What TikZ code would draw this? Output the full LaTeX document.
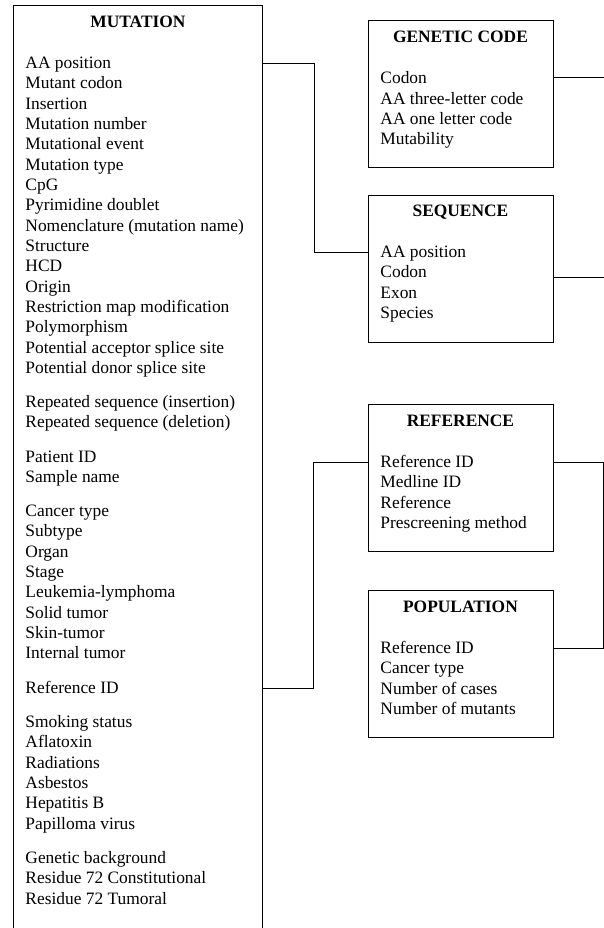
\documentclass[tikz,border=0pt]{standalone}
\usepackage{fontspec}
\setmainfont{Liberation Serif}
\newcommand{\fieldsize}{\fontsize{17.4pt}{20.3pt}\selectfont}

\begin{document}
\begin{tikzpicture}[
        x = 1pt,
        y = -1pt,
        line width = 0.9pt,
        entity/.style = {draw, rectangle, anchor = north west, minimum width = 185pt, minimum height = 147pt, inner sep = 0pt},
        heading/.style = {anchor = base, yshift = -22.3pt, inner sep = 0pt, font = \fieldsize\bfseries},
        field/.style = {anchor = base west, yshift = -5.5pt, inner sep = 0pt, text height = 13pt, text depth = 2pt, font = \fieldsize}
      ]
      \useasboundingbox (0,0) rectangle (604,928);

      \node[entity, minimum width = 249pt, minimum height = 950pt] (mutation) at (13,5) {};
      \node[entity] (genetic) at (367.5,20) {};
      \node[entity] (sequence) at (367.5,194.5) {};
      \node[entity] (reference) at (367.5,404) {};
      \node[entity] (population) at (367.5,590) {};

      \node[heading] (mutation-head) at (mutation.north) {MUTATION};
      \node[heading] (genetic-head) at (genetic.north) {GENETIC CODE};
      \node[heading] (sequence-head) at (sequence.north) {SEQUENCE};
      \node[heading] (reference-head) at (reference.north) {REFERENCE};
      \node[heading] (population-head) at (population.north) {POPULATION};

      \foreach \y/\txt [count = \i] in {63/AA position, 83.3/Mutant codon, 103.7/Insertion,
          124/Mutation number, 144.3/Mutational event, 164.7/Mutation type, 185/CpG,
          205.3/Pyrimidine doublet, 225.7/Nomenclature (mutation name), 246/Structure,
          266.3/HCD, 286.7/Origin, 307/Restriction map modification, 327.3/Polymorphism,
          347.7/Potential acceptor splice site, 368/Potential donor splice site,
          402/Repeated sequence (insertion), 422.3/Repeated sequence (deletion),
          456.5/Patient ID, 477/Sample name,
          511/Cancer type, 531.3/Subtype, 551.7/Organ, 572/Stage, 592.3/Leukemia-lymphoma,
          612.7/Solid tumor, 633/Skin-tumor, 653.3/Internal tumor,
          688/Reference ID,
          722/Smoking status, 742.3/Aflatoxin, 762.7/Radiations, 783/Asbestos,
          803.3/Hepatitis B, 823.7/Papilloma virus,
          858/Genetic background, 878.3/Residue 72 Constitutional, 898.7/Residue 72 Tumoral}
        \node[field] (mut\i) at (25,\y) {\txt};

      \foreach \y/\txt [count = \i] in {78.5/Codon, 98.8/AA three-letter code, 119.1/AA one letter code, 139.4/Mutability}
        \node[field] (gen\i) at (380,\y) {\txt};
      \foreach \y/\txt [count = \i] in {252/AA position, 272.3/Codon, 292.7/Exon, 313/Species}
        \node[field] (seq\i) at (380,\y) {\txt};
      \foreach \y/\txt [count = \i] in {462/Reference ID, 482.3/Medline ID, 502.7/Reference, 523/Prescreening method}
        \node[field] (ref\i) at (380,\y) {\txt};
      \foreach \y/\txt [count = \i] in {648/Reference ID, 668.3/Cancer type, 688.7/Number of cases, 709/Number of mutants}
        \node[field] (pop\i) at (380,\y) {\txt};

      \coordinate (code-out) at (604,77);
      \coordinate (sequence-out) at (604,277);

      \draw (mutation.east |- mut1) -- ++(52,0) |- (sequence.west |- seq1);
      \draw (mutation.east |- mut29) -- ++(51,0) |- (reference.west |- ref1);
      \draw (reference.east |- ref1) -- ++(50,0) |- (population.east |- pop1);
      \draw (genetic.east |- code-out) -- (code-out);
      \draw (sequence.east |- sequence-out) -- (sequence-out);
    \end{tikzpicture}
\end{document}
